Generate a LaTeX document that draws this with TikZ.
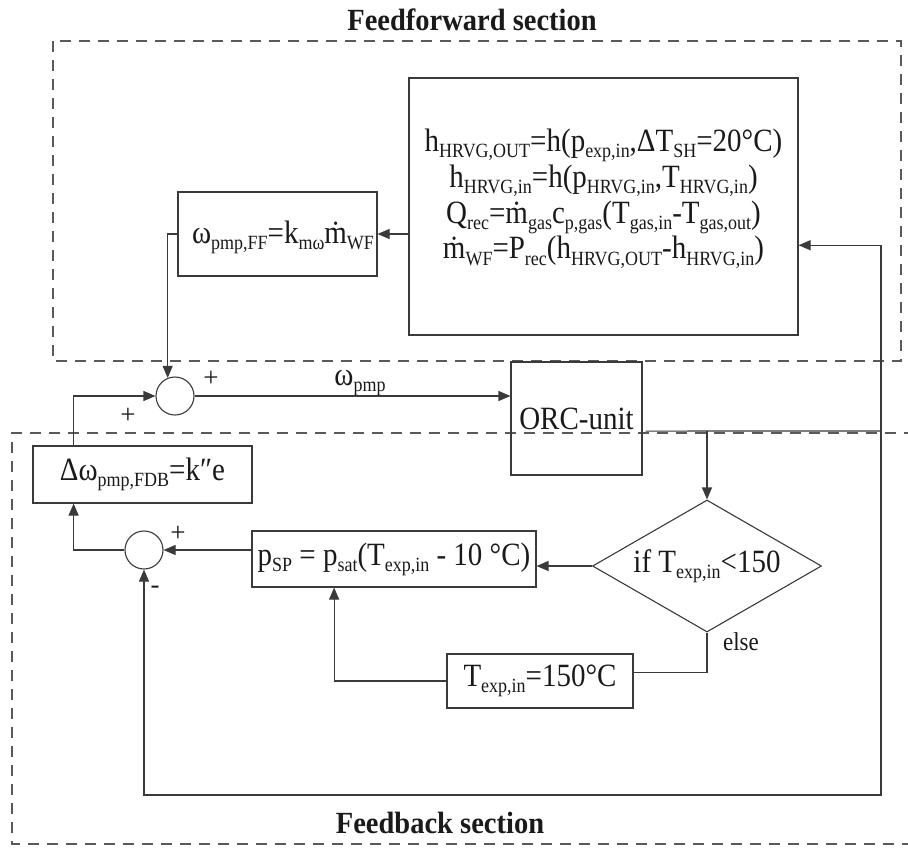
\documentclass[tikz,border=0pt]{standalone}
\usepackage{fontspec}
\setmainfont{Liberation Serif}
\usetikzlibrary{arrows.meta,shapes.geometric,calc}
\definecolor{lc}{HTML}{3A3A3A}
\definecolor{dc}{HTML}{5A5A5A}
\definecolor{tc}{HTML}{1A1A1A}
\newcommand\sbs[1]{\raisebox{-5.5pt}{\fontsize{18}{18}\selectfont #1}}
\newcommand\vs[1]{\scalebox{1}[1.12]{#1}}
\begin{document}
\begin{tikzpicture}[x=1pt,y=-1pt,
  box/.style={draw=lc,line width=1.1pt,rectangle,inner sep=0pt,text=tc,font=\fontsize{29}{36}\selectfont},
  sumc/.style={draw=lc,circle,minimum size=38pt,inner sep=0pt,line width=1.1pt},
  arr/.style={draw=lc,line width=1.1pt,-{Triangle[length=12pt,width=10pt]}},
  ln/.style={draw=lc,line width=1.1pt},
  sect/.style={draw=dc,line width=1.1pt,dash pattern=on 11pt off 8pt},
  txt/.style={text=tc,inner sep=0pt,font=\fontsize{29}{36}\selectfont},
  sgn/.style={text=tc,inner sep=0pt,font=\fontsize{27}{27}\selectfont},
  ttl/.style={text=tc,inner sep=0pt,font=\bfseries\fontsize{28.5}{28.5}\selectfont}]
\useasboundingbox (0,0) rectangle (908,847);
\fill[white] (0,0) rectangle (908,847);
% sections
\draw[sect] (53,41) rectangle (901,361);
\draw[sect] (915,433) -- (12,433) -- (12,844) -- (915,844);
\node[ttl] (fft) at (472,20) {\scalebox{1}[1.08]{Feedforward section}};
\node[ttl] (fbt) at (440,823) {\scalebox{1}[1.08]{Feedback section}};
% feedforward
\node[box,minimum width=389pt,minimum height=257pt] (big) at (603.5,206.5) {};
\node[txt] (bigtxt) at (603.5,198) {\vs{\fontsize{29}{32}\selectfont\begin{tabular}{@{}c@{}}h\sbs{HRVG,OUT}=h(p\sbs{exp,in},ΔT\sbs{SH}=20°C)\\
h\sbs{HRVG,in}=h(p\sbs{HRVG,in},T\sbs{HRVG,in})\\
Q\sbs{rec}=\.m\sbs{gas}c\sbs{p,gas}(T\sbs{gas,in}-T\sbs{gas,out})\\
\.m\sbs{WF}=P\sbs{rec}(h\sbs{HRVG,OUT}-h\sbs{HRVG,in})\end{tabular}}};
\node[box,minimum width=199pt,minimum height=84pt] (ff) at (277.5,234) {};
\node[txt] (fftxt) at (283,237) {\vs{ω\sbs{pmp,FF}=k\sbs{mω}\.m\sbs{WF}}};
% summing junction 1
\node[sumc] (sum1) at (175,396) {};
\node[sgn] (p1) at (211,379) {+};
\node[sgn] (p2) at (128,416) {+};
\node[txt] (wl) at (360,383) {\vs{ω\sbs{pmp}}};
\node[box,minimum width=131pt,minimum height=113pt] (orc) at (576.5,418.5) {\vs{ORC-unit}};
% feedback
\node[box,minimum width=219pt,minimum height=57pt] (dw) at (142.5,474.5) {\vs{Δω\sbs{pmp,FDB}=k″e}};
\node[sumc] (sum2) at (144,550) {};
\node[sgn] (p3) at (178,534) {+};
\node[sgn] (m1) at (155,590) {-};
\node[box,minimum width=284pt,minimum height=56pt] (psp) at (394,559) {\vs{p\sbs{SP} = p\sbs{sat}(T\sbs{exp,in} - 10 °C)}};
\node[diamond,draw=lc,line width=1.1pt,aspect=1.73,minimum width=229pt,minimum height=132pt,inner sep=0pt,text=tc,font=\fontsize{29}{36}\selectfont] (dia) at (707,566) {\vs{if T\sbs{exp,in}<150}};
\node[box,minimum width=186pt,minimum height=54pt] (tbox) at (540,681) {\vs{T\sbs{exp,in}=150°C}};
\node[text=tc,inner sep=0pt,font=\fontsize{23}{23}\selectfont] (else) at (741,642) {\vs{else}};
% connectors
\coordinate (J) at (881,431);
\draw[ln,shorten <=3pt] ($(orc.south east)!0.39!(orc.north east)$) -- (J);
\draw[arr] (J) |- ($(big.south east)!0.35!(big.north east)$);
\coordinate (bot) at (144,795);
\draw[arr] (J) |- (bot) -- (sum2.south);
\coordinate (B) at (dia.north |- J);
\draw[arr] (B) -- (dia.north);
\draw[arr] (big.west |- ff.east) -- (ff.east);
\draw[arr] (ff.west) -| (sum1.112);
\draw[arr] (sum1.east) -- (sum1.east -| orc.west);
\draw[arr] (dia.west) -- (dia.west -| psp.east);
\draw[arr] (psp.west |- sum2.east) -- (sum2.east);
\draw[arr] (sum2.west) -| ($(dw.south west)!0.187!(dw.south east)$);
\draw[arr] ($(dw.north west)!0.187!(dw.north east)$) |- (sum1.west);
\draw[ln] (dia.south) -- ++(0,40) coordinate (E) -- (E -| tbox.east);
\draw[arr] (tbox.west) -| ($(psp.south west)!0.29!(psp.south east)$);
\end{tikzpicture}
\end{document}
